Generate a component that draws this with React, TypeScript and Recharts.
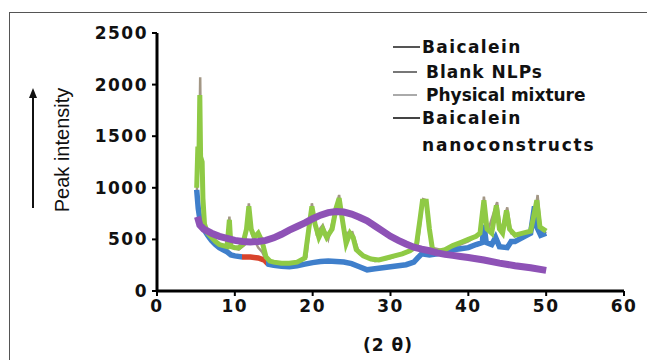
import { Line, LineChart, XAxis, YAxis } from "recharts";

// 2θ (degrees) vs peak intensity
const baicalein: [number, number][] = [
	[5.1, 950], [5.3, 1200], [5.45, 1500], [5.55, 2070], [5.65, 1300], [5.8, 1000], [6, 700],
	[6.5, 560], [7, 500], [8, 450], [9, 420], [9.3, 720], [9.6, 420], [10.5, 400], [11.3, 450],
	[11.8, 850], [12.2, 550], [13, 420], [13.5, 380], [14, 300], [16, 260], [18, 270], [19.2, 330],
	[19.9, 850], [20.5, 560], [21.3, 640], [22, 500], [23.4, 930], [24, 560], [25.1, 570], [26, 360],
	[28, 290], [30, 320], [32, 370], [33.5, 450], [34.2, 890], [34.6, 880], [35.3, 420], [37, 390],
	[40, 480], [41.6, 560], [42, 915], [42.5, 580], [43.7, 860], [44.2, 570], [45, 810], [45.5, 560],
	[47, 530], [48.3, 600], [48.9, 930], [49.3, 600], [50, 560],
];

const blankNLPs: [number, number][] = [
	[5.1, 980], [5.3, 800], [5.5, 700], [6, 600], [6.5, 540], [7, 490], [7.5, 450], [8, 420],
	[8.5, 400], [9, 380], [9.5, 350], [10, 340], [11, 330], [12, 330], [13, 320], [13.8, 300],
	[14.3, 260], [15, 250], [16, 240], [17, 235], [18, 245], [19, 260], [20, 275], [21, 285],
	[22, 290], [23, 285], [24, 280], [25, 265], [26, 235], [27, 205], [28, 215], [29, 225],
	[30, 235], [31, 245], [32, 255], [33, 280], [33.5, 320], [34, 360], [35, 350], [36, 360],
	[37, 380], [38, 400], [39, 410], [40, 420], [41, 450], [41.8, 470], [42, 640], [42.3, 470],
	[43, 450], [43.5, 520], [44, 430], [45, 420], [45.5, 480], [46, 480], [47, 520], [48, 560],
	[48.5, 820], [48.8, 620], [49.3, 540], [50, 560],
];

const physicalMixture: [number, number][] = [
	[5.1, 1000], [5.25, 1400], [5.4, 1350], [5.5, 1900], [5.6, 1300], [5.8, 1250], [5.9, 900],
	[6.1, 650], [6.5, 560], [7, 520], [7.5, 480], [8, 450], [8.5, 440], [9, 430], [9.3, 690],
	[9.5, 430], [10, 420], [10.5, 420], [11, 450], [11.5, 600], [11.8, 820], [12.1, 600],
	[12.5, 520], [13, 560], [13.5, 480], [14, 330], [14.5, 290], [15, 280], [16, 270], [17, 270],
	[18, 280], [19, 320], [19.5, 600], [19.9, 820], [20.3, 650], [20.8, 520], [21.3, 600],
	[21.8, 520], [22.5, 600], [23, 800], [23.4, 900], [23.8, 700], [24.3, 460], [24.8, 560],
	[25.2, 520], [25.6, 400], [26.5, 340], [27.5, 310], [28.5, 300], [29.5, 320], [30.5, 340],
	[31.5, 360], [32.5, 390], [33.3, 430], [33.8, 700], [34.1, 870], [34.6, 870], [35, 600],
	[35.4, 400], [36, 380], [37, 400], [38, 440], [39, 470], [40, 500], [41, 530], [41.5, 560],
	[42, 880], [42.4, 600], [43, 560], [43.6, 830], [44, 600], [44.4, 560], [44.9, 780],
	[45.3, 600], [46, 540], [47, 560], [48, 580], [48.5, 760], [48.8, 880], [49.2, 620], [50, 580],
];

const nanoconstructs: [number, number][] = [
	[5.2, 720], [5.5, 640], [6, 600], [7, 560], [8, 530], [9, 510], [10, 490], [11, 480],
	[12, 475], [13, 480], [14, 490], [15, 515], [16, 550], [17, 590], [18, 625], [19, 660],
	[20, 700], [21, 735], [22, 760], [23, 770], [24, 765], [25, 745], [26, 715], [27, 680],
	[28, 630], [29, 580], [30, 530], [31, 490], [32, 455], [33, 425], [34, 405], [35, 390],
	[36, 370], [37, 355], [38, 345], [39, 335], [40, 325], [42, 300], [44, 270], [46, 245],
	[48, 225], [50, 200],
];

const xTicks = [0, 10, 20, 30, 40, 50, 60];
const yTicks = [0, 500, 1000, 1500, 2000, 2500];

const legendItems = [
	{ label: "Baicalein", extra: "", line: "#555", x0: 393, x1: 420, tx: 422, y: 47, ls: 1.4 },
	{ label: "Blank NLPs", extra: "", line: "#777", x0: 393, x1: 417, tx: 426, y: 72, ls: 1 },
	{ label: "Physical mixture", extra: "", line: "#aaa", x0: 393, x1: 417, tx: 426, y: 95, ls: 0 },
	{ label: "Baicalein", extra: "nanoconstructs", line: "#444", x0: 393, x1: 420, tx: 422, y: 118, ls: 1.4 },
];

const toRows = (pts: [number, number][]) => pts.map(([x, y]) => ({ x, y }));

const font = "'DejaVu Sans', Verdana, sans-serif";

function LegendBox() {
	return (
		<div style={{ position: "absolute", left: 0, top: 0, width: 647, height: 170 }}>
			{legendItems.map((it, i) => (
				<div key={i}>
					<div
						style={{
							position: "absolute",
							left: it.x0,
							top: it.y - 1,
							width: it.x1 - it.x0,
							height: 2,
							background: it.line,
						}}
					/>
					<div
						style={{
							position: "absolute",
							left: it.tx,
							top: it.y - 11,
							fontFamily: font,
							fontWeight: "bold",
							fontSize: 17,
							letterSpacing: it.ls,
							color: "#111",
							whiteSpace: "nowrap",
							lineHeight: "22px",
						}}
					>
						{it.label}
					</div>
					{it.extra ? (
						<div
							style={{
								position: "absolute",
								left: it.tx,
								top: it.y + 16,
								fontFamily: font,
								fontWeight: "bold",
								fontSize: 17,
								letterSpacing: 1.8,
								color: "#111",
								whiteSpace: "nowrap",
								lineHeight: "22px",
							}}
						>
							{it.extra}
						</div>
					) : null}
				</div>
			))}
		</div>
	);
}

export default function App() {
	const tickStyle = { fontFamily: font, fontWeight: "bold", fontSize: 17, fill: "#111", letterSpacing: 1.5 };
	return (
		<div style={{ position: "fixed", left: 0, top: 0, width: 647, height: 360, background: "#fff", overflow: "hidden" }}>
			<div
				style={{
					position: "absolute",
					left: 9,
					top: 12,
					width: 660,
					height: 400,
					borderLeft: "1.5px solid #555",
					borderTop: "1.5px solid #555",
				}}
			/>
			<div style={{ position: "absolute", left: 0, top: 0 }}>
				<LineChart width={647} height={360} margin={{ top: 33, right: 23, bottom: 39, left: 77 }}>
					<defs>
						<linearGradient id="blankGrad" x1="0" y1="0" x2="1" y2="0">
							<stop offset="0" stopColor="#3f7fcb" />
							<stop offset="0.131" stopColor="#3f7fcb" />
							<stop offset="0.131" stopColor="#d8432c" />
							<stop offset="0.198" stopColor="#d8432c" />
							<stop offset="0.198" stopColor="#3f7fcb" />
							<stop offset="1" stopColor="#3f7fcb" />
						</linearGradient>
					</defs>
					<XAxis
						type="number"
						dataKey="x"
						domain={[0, 60]}
						ticks={xTicks}
						height={30}
						allowDuplicatedCategory={false}
						axisLine={{ stroke: "#000", strokeWidth: 3 }}
						tickLine={{ stroke: "#000", strokeWidth: 2 }}
						tickSize={5}
						tickMargin={4}
						tick={tickStyle}
					/>
					<YAxis
						type="number"
						dataKey="y"
						domain={[0, 2500]}
						ticks={yTicks}
						width={80}
						interval={0}
						axisLine={{ stroke: "#000", strokeWidth: 3 }}
						tickLine={{ stroke: "#000", strokeWidth: 2 }}
						tickSize={5}
						tickMargin={4}
						tick={tickStyle}
					/>
					<Line
						data={toRows(baicalein)}
						dataKey="y"
						name="Baicalein"
						stroke="#a39785"
						strokeWidth={2.5}
						dot={false}
						isAnimationActive={false}
					/>
					<Line
						data={toRows(blankNLPs)}
						dataKey="y"
						name="Blank NLPs"
						stroke="url(#blankGrad)"
						strokeWidth={5.5}
						dot={false}
						isAnimationActive={false}
					/>
					<Line
						data={toRows(physicalMixture)}
						dataKey="y"
						name="Physical mixture"
						stroke="#8fca45"
						strokeWidth={5}
						dot={false}
						isAnimationActive={false}
					/>
					<Line
						data={toRows(nanoconstructs)}
						dataKey="y"
						name="Baicalein nanoconstructs"
						stroke="#8e52b6"
						strokeWidth={7}
						dot={false}
						isAnimationActive={false}
					/>
				</LineChart>
			</div>
			<LegendBox />
			<svg width={647} height={360} style={{ position: "absolute", left: 0, top: 0, pointerEvents: "none" }}>
				<line x1={33} y1={208} x2={33} y2={96} stroke="#111" strokeWidth={2} />
				<polygon points="33,88 29,98 37,98" fill="#111" />
				<text
					x={0}
					y={0}
					transform="translate(69,150) rotate(-90)"
					textAnchor="middle"
					fontFamily="'Liberation Sans', Arial, sans-serif"
					fontSize={20}
					fill="#111"
				>
					Peak intensity
				</text>
				<text x={388} y={351} textAnchor="middle" fontFamily={font} fontWeight="bold" fontSize={17} fill="#111" letterSpacing={1}>
					(2 θ)
				</text>
			</svg>
		</div>
	);
}
